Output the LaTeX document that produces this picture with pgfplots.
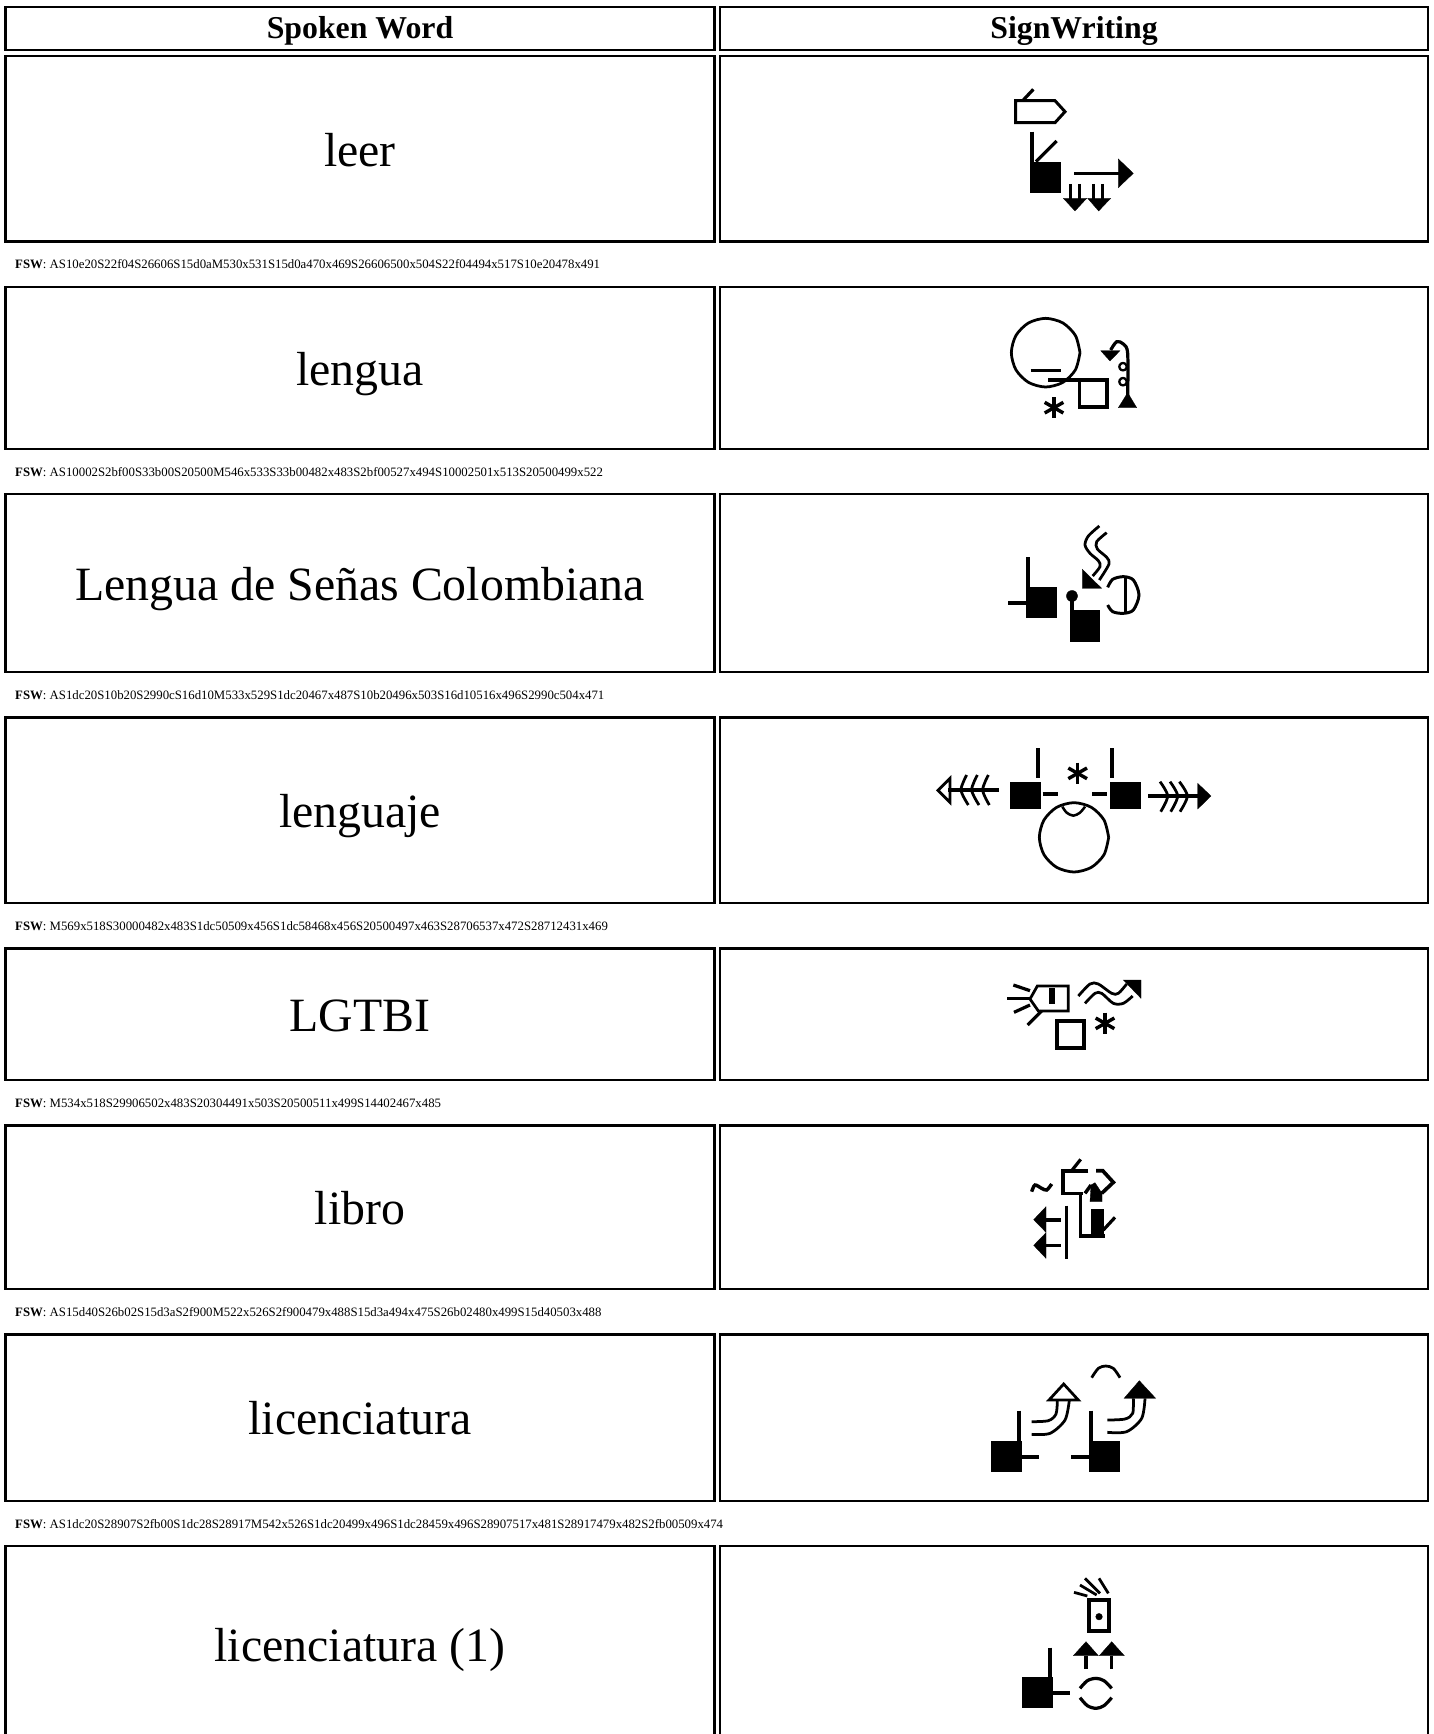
\documentclass[border=0pt]{standalone}
\usepackage{fontspec}
\setmainfont{Liberation Serif}
\usepackage{pgfplots}
\pgfplotsset{compat=1.18}
\def\ox{0}\def\oy{0}\def\zs{1}
\newcommand{\Zm}[3]{\def\ox{#1}\def\oy{#2}\def\zs{#3}}
\newcommand{\gLn}[2][2.8]{\addplot[black,line width=1.15*#1pt] coordinates {#2};}
\newcommand{\gCl}[2][2.6]{\addplot[black,line width=1.15*#1pt] coordinates {#2} --cycle;}
\newcommand{\gCv}[2][2.6]{\addplot[black,line width=1.15*#1pt,smooth] coordinates {#2};}
\newcommand{\gFl}[1]{\addplot[black,fill=black,line width=0.3pt] coordinates {#1} --cycle;}
\newcommand{\gSq}[4]{\gFl{(#1,#2)(#3,#2)(#3,#4)(#1,#4)}}
\newcommand{\gBx}[5][2.6]{\gCl[#1]{(#2,#3)(#4,#3)(#4,#5)(#2,#5)}}
\newcommand{\gCr}[4][2.4]{\addplot[black,line width=1.15*#1pt,smooth] coordinates {({#2+#4},#3)({#2+.866*#4},{#3+.5*#4})({#2+.5*#4},{#3+.866*#4})(#2,{#3+#4})({#2-.5*#4},{#3+.866*#4})({#2-.866*#4},{#3+.5*#4})({#2-#4},#3)({#2-.866*#4},{#3-.5*#4})({#2-.5*#4},{#3-.866*#4})(#2,{#3-#4})({#2+.5*#4},{#3-.866*#4})({#2+.866*#4},{#3-.5*#4})({#2+#4},#3)};}
\newcommand{\gDt}[3]{\addplot[black,fill=black,line width=0.3pt,smooth] coordinates {({#1+#3},#2)({#1+.707*#3},{#2+.707*#3})(#1,{#2+#3})({#1-.707*#3},{#2+.707*#3})({#1-#3},#2)({#1-.707*#3},{#2-.707*#3})(#1,{#2-#3})({#1+.707*#3},{#2-.707*#3})({#1+#3},#2)} --cycle;}
\newcommand{\gAst}[2]{\gLn[3]{(#1,{#2-32})(#1,{#2+32})}\gLn[3]{({#1-28},{#2-16})({#1+28},{#2+16})}\gLn[3]{({#1-28},{#2+16})({#1+28},{#2-16})}}
\newcommand{\Word}[2]{\node[anchor=base,inner sep=0pt] at (axis cs:360,#1) {\fontsize{47.8}{50}\selectfont #2};}
\newcommand{\Head}[2]{\node[anchor=base,inner sep=0pt] at (axis cs:#1,39) {\fontsize{31.8}{34}\selectfont\bfseries #2};}
\newcommand{\Fsw}[2]{\node[anchor=base west,inner sep=0pt] at (axis cs:15,#1) {\fontsize{12.8}{14}\selectfont\textbf{FSW}: #2};}
\newcommand{\Row}[2]{\gBx[2.1]{5.5}{#1}{714.5}{#2}\gBx[2.1]{720}{#1}{1428}{#2}}
\begin{document}
\begin{tikzpicture}
\path[use as bounding box] (0,0) rectangle (1433pt,1734pt);
\begin{axis}[
  at={(0,0)},anchor=south west,
  width=1433pt,height=1734pt,scale only axis,
  xmin=0,xmax=1433,ymin=0,ymax=1734,y dir=reverse,
  hide axis,clip=true,
  every axis plot/.append style={mark=none},
  x filter/.code={\pgfmathparse{\ox+#1/\zs}},
  y filter/.code={\pgfmathparse{\oy+#1/\zs}},
]
% table cells
\Row{7}{50}
\Row{56}{241.5}
\Row{287}{449}
\Row{494}{672}
\Row{717.5}{903}
\Row{948.5}{1080}
\Row{1125.5}{1289}
\Row{1334.5}{1501}
\Row{1546}{1770}
% glyph 1 leer
\Zm{960}{60}{3}
\gCl[2.6]{(167,122)(285,122)(315,155)(285,188)(167,188)}
\gLn{(190,120)(220,88)}
\gLn[3]{(216,215)(216,310)}
\gSq{210}{305}{300}{395}
\gLn{(228,305)(290,243)}
\gLn[3]{(342,340)(480,340)}
\gFl{(475,297)(520,340)(475,383)}
\gLn[2.4]{(331,372)(331,418)}\gLn[2.4]{(358,372)(358,418)}
\gLn[2.4]{(401,372)(401,418)}\gLn[2.4]{(428,372)(428,418)}
\gFl{(310,415)(380,415)(345,453)}
\gFl{(383,415)(452,415)(416,453)}
% glyph 2 lengua
\Zm{960}{290}{3}
\gCr[2.4]{257}{188}{103}
\gLn[3]{(212,241)(303,241)}
\gLn[3]{(265,270)(358,270)}
\gBx[3.2]{358}{270}{441}{352}
\gAst{282}{353}
\gCv[2.8]{(503,325)(503,190)(490,162)(470,155)(452,180)}
\gFl{(422,182)(480,182)(450,213)}
\gCr[2]{489}{230}{11}
\gCr[2]{489}{275}{11}
\gFl{(475,353)(530,353)(503,308)}
% glyph 3 LSC
\Zm{960}{500}{3}
\gLn[3.4]{(204,172)(204,265)}
\gSq{198}{262}{288}{352}
\gLn[3.4]{(144,310)(198,310)}
\gDt{336}{288}{17}
\gLn[3.4]{(336,288)(336,335)}
\gSq{331}{331}{418}{423}
\gCv[2.4]{(418,78)(385,108)(375,135)(390,160)(415,182)(420,200)(398,228)}
\gCv[2.4]{(440,98)(410,125)(412,147)(440,172)(447,192)(418,240)}
\gFl{(367,208)(367,265)(425,265)}
\gCv[2.6]{(443,262)(458,238)(490,230)(520,240)(537,285)(520,330)(490,340)(458,335)(443,315)}
\gLn[2.4]{(497,230)(497,340)}
% glyph 4 lenguaje
\Zm{900}{730}{3}
\gLn[3.4]{(413,55)(413,145)}
\gSq{330}{156}{420}{235}
\gLn[3.4]{(428,192)(474,192)}
\gLn[3.4]{(636,55)(636,145)}
\gSq{630}{156}{720}{235}
\gLn[3.4]{(577,192)(622,192)}
\gAst{533}{130}
\gCr[2.4]{522}{322}{104}
\gCv[2.2]{(487,230)(500,248)(520,257)(540,248)(555,230)}
\gLn[3.4]{(145,181)(298,181)}
\gCl[2.4]{(150,145)(114,181)(150,217)}
\gCv[2.4]{(200,135)(183,180)(205,225)}
\gCv[2.4]{(232,135)(215,180)(237,225)}
\gCv[2.4]{(265,135)(248,180)(268,225)}
\gLn[3.4]{(745,198)(895,198)}
\gFl{(893,160)(933,198)(893,237)}
\gCv[2.4]{(780,155)(803,198)(782,245)}
\gCv[2.4]{(810,155)(833,198)(812,245)}
\gCv[2.4]{(838,155)(862,198)(840,245)}
% glyph 5 LGTBI
\Zm{980}{960}{3}
\gCl[2.4]{(172,78)(265,78)(265,153)(175,153)(150,117)}
\gSq{207}{85}{222}{128}
\gLn{(100,75)(150,92)}
\gLn{(82,116)(150,116)}
\gLn{(102,157)(150,135)}
\gLn{(143,195)(185,153)}
\gBx[3.6]{230}{183}{312}{265}
\gAst{375}{190}
\gCv[2.4]{(295,108)(330,72)(355,72)(395,100)(415,100)(440,72)}
\gCv[2.4]{(315,130)(345,100)(365,100)(400,130)(430,130)(458,108)}
\gFl{(430,60)(483,60)(483,115)}
% glyph 6 libro
\Zm{990}{1140}{3}
\gCv[3]{(125,155)(135,135)(155,145)(170,150)(185,132)}
\gLn{(245,92)(272,58)}
\gLn[3.2]{(295,92)(218,92)(218,160)(278,160)}
\gLn[3.2]{(318,92)(338,92)(370,127)(335,160)}
\gFl{(303,135)(315,128)(336,160)(336,185)(300,185)}
\gLn[3]{(272,165)(272,288)(345,288)}
\gLn[3]{(285,160)(303,135)}
\gSq{303}{208}{340}{288}
\gLn{(340,270)(375,232)}
\gLn[3.2]{(229,197)(229,357)}
\gLn[3.2]{(165,239)(212,239)}
\gFl{(168,200)(131,239)(168,277)}
\gLn[3.2]{(165,316)(212,316)}
\gFl{(168,278)(131,316)(168,355)}
% glyph 7 licenciatura
\Zm{970}{1350}{3}
\gLn[3.4]{(147,182)(147,280)}
\gSq{62}{272}{152}{362}
\gLn[3.4]{(152,320)(207,320)}
\gLn[3.4]{(363,182)(363,280)}
\gSq{357}{272}{447}{362}
\gLn[3.4]{(303,320)(357,320)}
\gCv[2.4]{(365,83)(385,55)(407,48)(430,55)(450,83)}
\gCl[2.4]{(237,150)(325,150)(281,102)}
\gCv[2.4]{(185,215)(235,212)(258,192)(262,150)}
\gCv[2.4]{(185,253)(240,250)(285,210)(298,150)}
\gFl{(462,145)(557,145)(508,92)}
\gCv[2.4]{(412,210)(465,207)(488,190)(490,145)}
\gCv[2.4]{(412,247)(470,245)(515,205)(525,145)}
% glyph 8 licenciatura (1)
\Zm{1000}{1560}{3}
\gLn[2.4]{(222,97)(262,108)}
\gLn[2.4]{(240,75)(290,105)}
\gLn[2.4]{(255,55)(300,100)}
\gLn[2.4]{(297,55)(325,100)}
\gBx[3.4]{267}{120}{327}{212}
\gDt{297}{170}{10}
\gFl{(220,287)(295,287)(258,245)}
\gLn[3]{(258,287)(258,328)}
\gFl{(298,287)(373,287)(335,245)}
\gLn[3]{(335,287)(335,328)}
\gLn[3.4]{(150,263)(150,355)}
\gSq{65}{352}{155}{442}
\gLn[3.4]{(155,400)(210,400)}
\gCv[2.8]{(240,385)(262,362)(288,355)(312,362)(335,385)}
\gCv[2.8]{(240,413)(262,437)(288,445)(312,437)(335,413)}
% text
\Head{360}{Spoken Word}
\Head{1074}{SignWriting}
\Word{166}{leer}
\Word{385}{lengua}
\Word{600}{Lengua de Señas Colombiana}
\Word{827}{lenguaje}
\Word{1031}{LGTBI}
\Word{1224}{libro}
\Word{1434}{licenciatura}
\Word{1661}{licenciatura (1)}
\Fsw{268.7}{AS10e20S22f04S26606S15d0aM530x531S15d0a470x469S26606500x504S22f04494x517S10e20478x491}
\Fsw{476}{AS10002S2bf00S33b00S20500M546x533S33b00482x483S2bf00527x494S10002501x513S20500499x522}
\Fsw{699}{AS1dc20S10b20S2990cS16d10M533x529S1dc20467x487S10b20496x503S16d10516x496S2990c504x471}
\Fsw{930}{M569x518S30000482x483S1dc50509x456S1dc58468x456S20500497x463S28706537x472S28712431x469}
\Fsw{1107}{M534x518S29906502x483S20304491x503S20500511x499S14402467x485}
\Fsw{1316}{AS15d40S26b02S15d3aS2f900M522x526S2f900479x488S15d3a494x475S26b02480x499S15d40503x488}
\Fsw{1528}{AS1dc20S28907S2fb00S1dc28S28917M542x526S1dc20499x496S1dc28459x496S28907517x481S28917479x482S2fb00509x474}
\end{axis}
\end{tikzpicture}
\end{document}
